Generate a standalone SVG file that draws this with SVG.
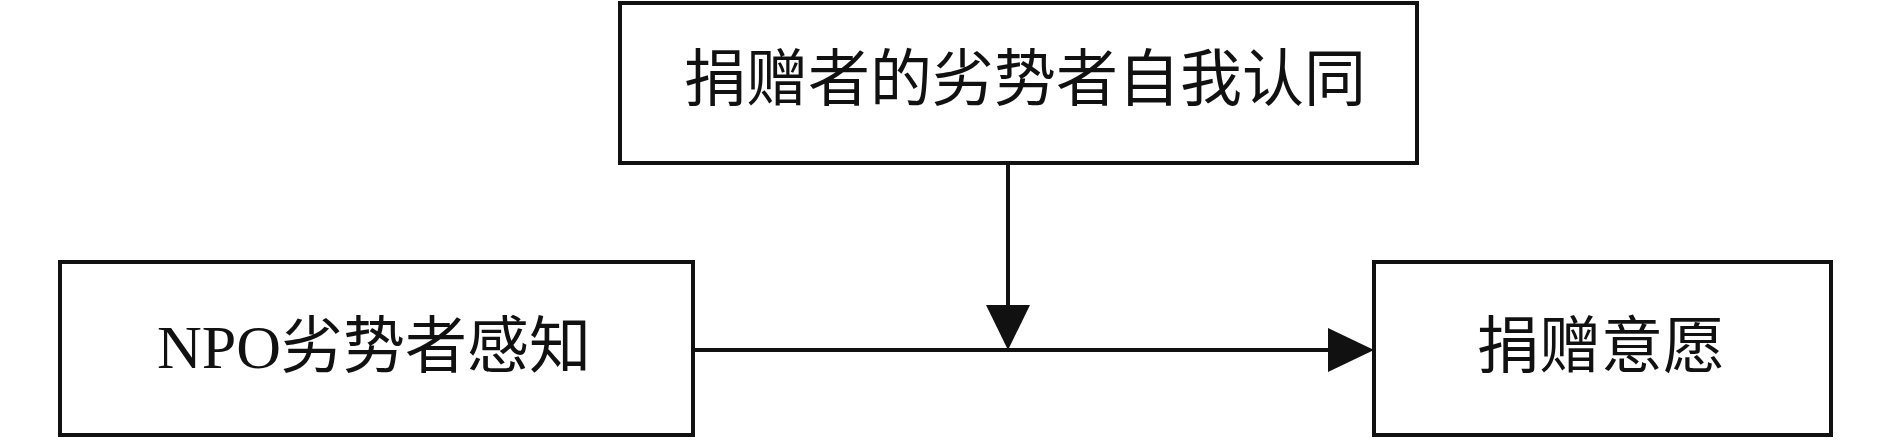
<svg xmlns="http://www.w3.org/2000/svg" width="1890" height="440" viewBox="0 0 1890 440">
<style>
.box{fill:#fff;stroke:#111;stroke-width:4}
.t{font-family:"Liberation Serif","Noto Sans CJK SC",serif;font-size:62px;fill:#111;text-anchor:middle;dominant-baseline:central}
.ln{stroke:#111;stroke-width:4;fill:none}
.ah{fill:#111}
</style>
<rect width="1890" height="440" fill="#fff"/>
<g id="node-top">
<rect class="box" x="620" y="3" width="797" height="160"/>
<text class="t" x="1025" y="80">捐赠者的劣势者自我认同</text>
</g>
<g id="node-left">
<rect class="box" x="60" y="262" width="633" height="173"/>
<text class="t" x="374" y="347">NPO劣势者感知</text>
</g>
<g id="node-right">
<rect class="box" x="1374" y="262" width="457" height="173"/>
<text class="t" x="1601" y="347">捐赠意愿</text>
</g>
<g id="connectors">
<line class="ln" x1="693" y1="350" x2="1332" y2="350"/>
<polygon class="ah" points="1328,328 1374,350 1328,372"/>
<line class="ln" x1="1008" y1="163" x2="1008" y2="308"/>
<polygon class="ah" points="986,305 1030,305 1008,350"/>
</g>
</svg>
